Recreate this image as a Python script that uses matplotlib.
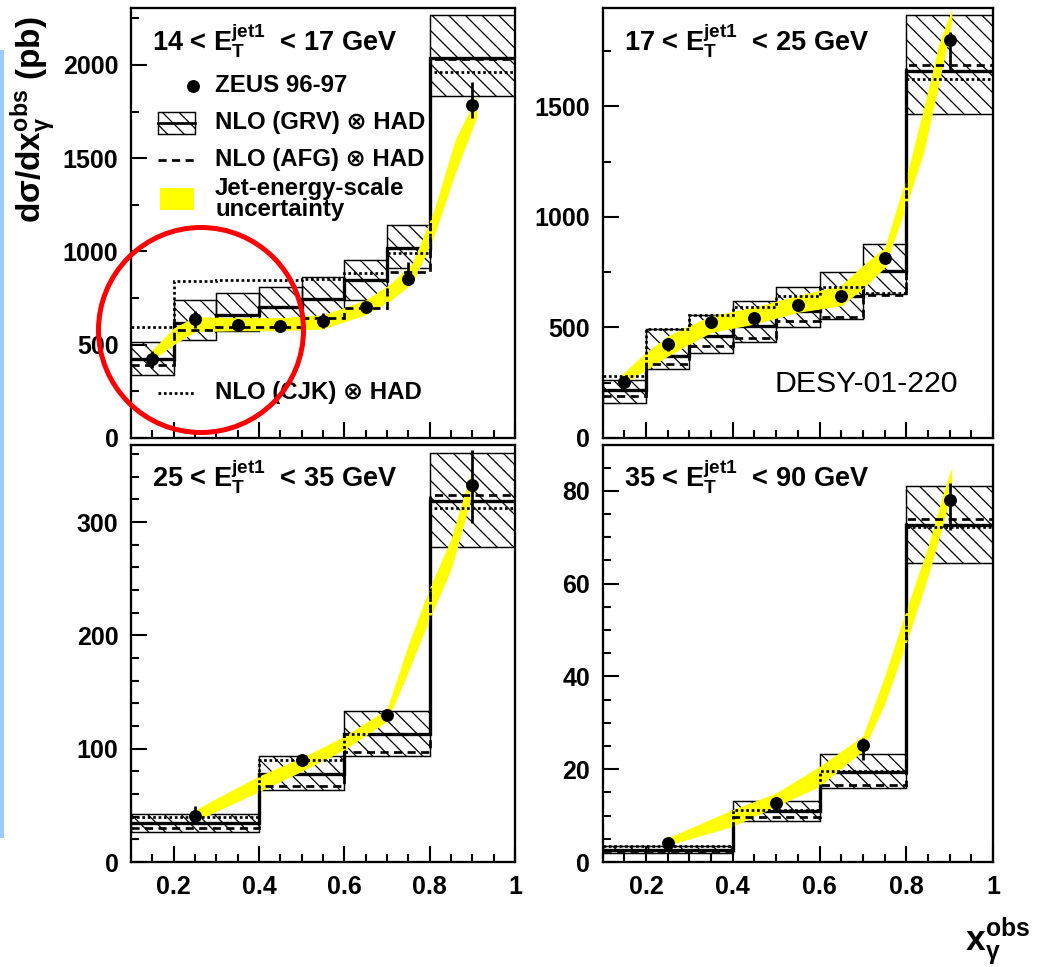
import numpy as np
import matplotlib
matplotlib.use("Agg")
import matplotlib.pyplot as plt
from matplotlib.patches import Rectangle, Ellipse
from matplotlib.lines import Line2D
from matplotlib.ticker import FixedLocator, MultipleLocator

plt.rcParams['font.family'] = ['Liberation Sans', 'DejaVu Sans']
plt.rcParams['font.weight'] = 'bold'
plt.rcParams['mathtext.fontset'] = 'custom'
plt.rcParams['mathtext.rm'] = 'Liberation Sans:bold'
plt.rcParams['mathtext.bf'] = 'Liberation Sans:bold'
plt.rcParams['mathtext.it'] = 'Liberation Sans:bold'
plt.rcParams['hatch.linewidth'] = 0.6
plt.rcParams['hatch.color'] = 'black'

DPI = 150
HATCH = '\\\\\\'

# --- bins ---
edges_fine = [0.1, 0.2, 0.3, 0.4, 0.5, 0.6, 0.7, 0.8, 1.0]
edges_coarse = [0.1, 0.4, 0.6, 0.8, 1.0]

# --- 14 < ET < 17 GeV ---
grv_a = [422, 618, 660, 701, 745, 847, 1017, 2036]
grv_lo_a = [338, 525, 575, 590, 640, 740, 910, 1835]
grv_hi_a = [516, 740, 779, 811, 862, 954, 1142, 2268]
afg_a = [391, 579, 597, 597, 642, 695, 892, 2030]
cjk_a = [593, 843, 846, 846, 852, 884, 991, 1964]
data_x_a = [0.15, 0.25, 0.35, 0.45, 0.55, 0.65, 0.75, 0.9]
data_y_a = [422, 636, 606, 600, 629, 701, 851, 1786]
err_lo_a = [45, 45, 20, 20, 40, 30, 30, 72]
err_hi_a = [45, 45, 20, 20, 40, 30, 90, 125]
band_x_a = [0.14, 0.2, 0.25, 0.35, 0.45, 0.55, 0.65, 0.71, 0.76, 0.81, 0.86, 0.91]
band_lo_a = [400, 500, 570, 575, 575, 585, 660, 740, 830, 1080, 1420, 1720]
band_hi_a = [450, 590, 650, 645, 645, 660, 740, 830, 940, 1220, 1600, 1830]

# --- 17 < ET < 25 GeV ---
grv_b = [219, 371, 459, 507, 576, 644, 753, 1659]
grv_lo_b = [158, 310, 386, 432, 500, 538, 652, 1465]
grv_hi_b = [264, 492, 556, 621, 682, 751, 875, 1913]
afg_b = [188, 333, 416, 454, 531, 546, 648, 1685]
cjk_b = [279, 492, 556, 591, 644, 682, 655, 1624]
data_x_b = [0.15, 0.25, 0.35, 0.45, 0.55, 0.65, 0.75, 0.9]
data_y_b = [252, 424, 526, 541, 602, 644, 814, 1799]
err_lo_b = [20, 30, 25, 25, 20, 20, 20, 144]
err_hi_b = [20, 30, 25, 25, 20, 20, 20, 35]
band_x_b = [0.14, 0.19, 0.25, 0.35, 0.45, 0.55, 0.65, 0.70, 0.75, 0.80, 0.84, 0.875, 0.905]
band_lo_b = [234, 295, 370, 477, 515, 568, 598, 675, 770, 1050, 1290, 1600, 1880]
band_hi_b = [279, 370, 462, 553, 592, 644, 690, 781, 860, 1180, 1490, 1780, 1940]

# --- 25 < ET < 35 GeV ---
grv_c = [34.4, 77.6, 112.9, 318.7]
grv_lo_c = [26.2, 63.8, 93.2, 278.4]
grv_hi_c = [42.6, 93.8, 132.9, 361.3]
afg_c = [30.0, 66.7, 96.7, 324.0]
cjk_c = [39.7, 90.3, 112.9, 312.2]
data_x_c = [0.25, 0.5, 0.7, 0.9]
data_y_c = [40.3, 90.3, 130.0, 332.8]
err_lo_c = [6, 4, 3, 34]
err_hi_c = [9, 4, 3, 31]
band_x_c = [0.25, 0.40, 0.50, 0.60, 0.70, 0.75, 0.80, 0.85, 0.895]
band_lo_c = [36, 62, 80, 99, 124, 168, 215, 258, 318]
band_hi_c = [46, 76, 92, 111, 135, 192, 242, 285, 342]

# --- 35 < ET < 90 GeV ---
grv_d = [2.5, 10.9, 19.3, 72.7]
grv_lo_d = [1.9, 8.8, 15.9, 64.4]
grv_hi_d = [3.5, 13.2, 23.3, 81.1]
afg_d = [2.3, 9.6, 16.7, 73.9]
cjk_d = [3.4, 11.3, 19.7, 72.3]
data_x_d = [0.25, 0.5, 0.7, 0.9]
data_y_d = [4.1, 12.7, 25.3, 78.0]
err_lo_d = [0.5, 1.4, 3.3, 6.4]
err_hi_d = [0.5, 1.4, 1.4, 3.6]
band_x_d = [0.25, 0.40, 0.50, 0.60, 0.70, 0.75, 0.80, 0.85, 0.89, 0.905]
band_lo_d = [3.6, 7.7, 12.0, 16.3, 24.0, 34.0, 47.2, 61.5, 74.5, 82]
band_hi_d = [5.2, 11.3, 14.9, 20.6, 27.2, 40.0, 54.4, 68.0, 81.0, 85]

x_ticks = [0.2, 0.4, 0.6, 0.8, 1.0]
x_tick_labels = ['0.2', '0.4', '0.6', '0.8', '1']


def draw_panel(ax, edges, grv, grv_lo, grv_hi, afg, cjk, dx, dy, elo, ehi,
               bx, blo, bhi, ymax, major, minor, title, show_x):
    edges = np.asarray(edges)
    ax.bar(edges[:-1], np.subtract(grv_hi, grv_lo), width=np.diff(edges),
           bottom=grv_lo, align='edge', fill=False, hatch=HATCH,
           edgecolor='black', linewidth=0.7, zorder=2)
    ax.stairs(grv, edges, baseline=None, color='black', lw=1.6, zorder=3)
    ax.fill_between(bx, blo, bhi, color='#ffff00', lw=0, zorder=4)
    ax.stairs(afg, edges, baseline=None, color='black', lw=1.3,
              ls=(0, (3, 2)), zorder=5)
    ax.stairs(cjk, edges, baseline=None, color='black', lw=1.3,
              ls=(0, (1, 1)), zorder=5)
    ax.errorbar(dx, dy, yerr=[elo, ehi], fmt='o', color='black', ms=5.2,
                elinewidth=1.3, capsize=0, zorder=6)

    ax.set_xlim(0.1, 1.0)
    ax.set_ylim(0, ymax)
    ax.xaxis.set_major_locator(FixedLocator(x_ticks))
    ax.xaxis.set_minor_locator(MultipleLocator(0.05))
    ax.yaxis.set_major_locator(MultipleLocator(major))
    ax.yaxis.set_minor_locator(MultipleLocator(minor))
    if show_x:
        ax.set_xticklabels(x_tick_labels)
    ax.tick_params(which='both', direction='in', top=False, right=False,
                   width=1.0, labelsize=12, pad=6, labelbottom=show_x)
    ax.tick_params(which='major', length=7.5)
    ax.tick_params(which='minor', length=3.8)
    for s in ax.spines.values():
        s.set_linewidth(1.1)
    ax.text(0.055, 0.925, title, transform=ax.transAxes, fontsize=13,
            ha='left', va='center', zorder=7)


W, H = 1037, 967
fig = plt.figure(figsize=(W / DPI, H / DPI), dpi=DPI)

ax_a = fig.add_axes([131 / W, 1 - 438 / H, 384 / W, 430 / H])
ax_b = fig.add_axes([602.7 / W, 1 - 438 / H, 390.3 / W, 430 / H])
ax_c = fig.add_axes([131 / W, 1 - 862 / H, 384 / W, 417 / H])
ax_d = fig.add_axes([602.7 / W, 1 - 862 / H, 390.3 / W, 417 / H])

draw_panel(ax_a, edges_fine, grv_a, grv_lo_a, grv_hi_a, afg_a, cjk_a,
           data_x_a, data_y_a, err_lo_a, err_hi_a,
           band_x_a, band_lo_a, band_hi_a, 2305, 500, 250,
           r'14 < E$_{\rm T}^{\rm jet1}$  < 17 GeV', False)
draw_panel(ax_b, edges_fine, grv_b, grv_lo_b, grv_hi_b, afg_b, cjk_b,
           data_x_b, data_y_b, err_lo_b, err_hi_b,
           band_x_b, band_lo_b, band_hi_b, 1944, 500, 250,
           r'17 < E$_{\rm T}^{\rm jet1}$  < 25 GeV', False)
draw_panel(ax_c, edges_coarse, grv_c, grv_lo_c, grv_hi_c, afg_c, cjk_c,
           data_x_c, data_y_c, err_lo_c, err_hi_c,
           band_x_c, band_lo_c, band_hi_c, 368, 100, 20,
           r'25 < E$_{\rm T}^{\rm jet1}$  < 35 GeV', True)
draw_panel(ax_d, edges_coarse, grv_d, grv_lo_d, grv_hi_d, afg_d, cjk_d,
           data_x_d, data_y_d, err_lo_d, err_hi_d,
           band_x_d, band_lo_d, band_hi_d, 89.9, 20, 5,
           r'35 < E$_{\rm T}^{\rm jet1}$  < 90 GeV', True)

# legend drawn by hand in the first panel
tr = ax_a.transAxes
ax_a.plot([0.161], [0.819], 'o', color='black', ms=5.2, transform=tr)
ax_a.text(0.219, 0.819, 'ZEUS 96-97', transform=tr, fontsize=11.5, va='center')
ax_a.add_patch(Rectangle((0.07, 0.707), 0.097, 0.051, transform=tr, fill=False,
                         hatch=HATCH, edgecolor='black', lw=0.7))
ax_a.add_line(Line2D([0.07, 0.167], [0.7325, 0.7325], transform=tr,
                     color='black', lw=1.3))
ax_a.text(0.219, 0.733, 'NLO (GRV) \u2297 HAD', transform=tr, fontsize=11.5, va='center')
ax_a.add_line(Line2D([0.07, 0.167], [0.647, 0.647], transform=tr,
                     color='black', lw=1.3, ls=(0, (3, 2))))
ax_a.text(0.219, 0.647, 'NLO (AFG) \u2297 HAD', transform=tr, fontsize=11.5, va='center')
ax_a.add_patch(Rectangle((0.075, 0.530), 0.09, 0.051, transform=tr,
                         color='#ffff00', lw=0))
ax_a.text(0.219, 0.556, 'Jet-energy-scale\nuncertainty', transform=tr,
          fontsize=11.5, va='center', linespacing=0.85)
ax_a.add_line(Line2D([0.07, 0.167], [0.105, 0.105], transform=tr,
                     color='black', lw=1.3, ls=(0, (1, 1))))
ax_a.text(0.219, 0.105, 'NLO (CJK) \u2297 HAD', transform=tr, fontsize=11.5, va='center')

# axis titles
fig.text(33 / W, 1 - 120 / H, r'd$\sigma$/dx$_{\gamma}^{\rm obs}$ (pb)',
         rotation=90, fontsize=16, ha='center', va='center')
fig.text(965 / W, 1 - 951 / H, r'x$_{\gamma}^{\rm obs}$', fontsize=17,
         ha='left', va='baseline')

fig.text(866 / W, 1 - 384 / H, 'DESY-01-220', fontsize=14.5,
         fontweight='normal', ha='center', va='center')

# side bar and highlight circle
fig.add_artist(Rectangle((0, 1 - 838 / H), 4 / W, (838 - 50) / H,
                         transform=fig.transFigure, color='#99ccff', lw=0))
fig.add_artist(Ellipse((201 / W, 1 - 330 / H), 205 / W, 205 / H,
                       transform=fig.transFigure, fill=False,
                       edgecolor='#ff0000', lw=2.4, zorder=10))

fig.savefig('out.png', dpi=DPI)
